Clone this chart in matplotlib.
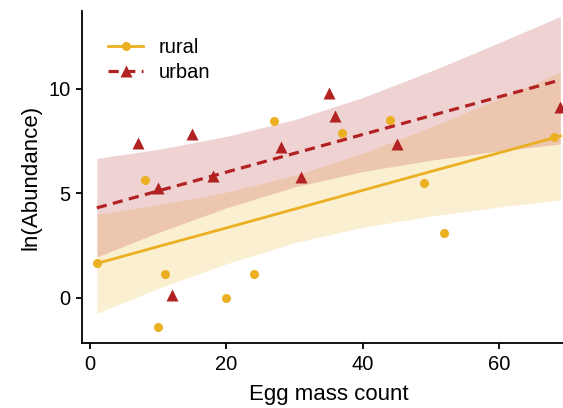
import numpy as np
import matplotlib
matplotlib.use("Agg")
import matplotlib.pyplot as plt
from matplotlib.lines import Line2D

plt.rcParams['font.family'] = ['Liberation Sans', 'DejaVu Sans']

# observed points
rural_x = [1, 8, 10, 11, 20, 24, 27, 37, 44, 49, 52, 68]
rural_y = [1.65, 5.63, -1.42, 1.12, 0.0, 1.13, 8.47, 7.9, 8.52, 5.49, 3.11, 7.67]
urban_x = [7, 10, 12, 15, 18, 28, 31, 35, 36, 45, 69]
urban_y = [7.39, 5.26, 0.13, 7.83, 5.84, 7.22, 5.76, 9.78, 8.68, 7.37, 9.14]

# fitted lines and confidence bands, read at these egg counts
fit_x = [1, 10, 20, 30, 40, 50, 60, 69]
rural_fit = [1.64, 2.45, 3.34, 4.24, 5.14, 6.04, 6.93, 7.74]
rural_lo = [-0.75, 0.45, 1.62, 2.63, 3.37, 3.91, 4.34, 4.68]
rural_hi = [3.99, 4.44, 5.05, 5.85, 6.91, 8.17, 9.52, 10.80]
urban_fit = [4.30, 5.11, 6.01, 6.91, 7.81, 8.71, 9.61, 10.42]
urban_lo = [1.95, 3.12, 4.30, 5.30, 6.04, 6.58, 7.02, 7.36]
urban_hi = [6.67, 7.10, 7.72, 8.52, 9.58, 10.84, 12.20, 13.46]

rural_col = '#EBAF22'
urban_col = '#B22222'

fig = plt.figure(figsize=(5.63, 4.08), dpi=100)
ax = fig.add_axes([82.3 / 563, 64.7 / 408, 492.4 / 563, 332.3 / 408])

ax.fill_between(fit_x, rural_lo, rural_hi, color=rural_col, alpha=0.2, lw=0, zorder=1)
ax.fill_between(fit_x, urban_lo, urban_hi, color=urban_col, alpha=0.2, lw=0, zorder=1)
ax.plot(fit_x, rural_fit, color=rural_col, lw=2.0, zorder=2)
ax.plot(fit_x, urban_fit, color=urban_col, lw=2.3, dashes=(3.2, 2), zorder=2)
ax.plot(rural_x, rural_y, 'o', color=rural_col, ms=6.5, mec='none', zorder=3)
ax.plot(urban_x, urban_y, '^', color=urban_col, ms=8, mec='none', zorder=3)

ax.set_xlim(-1.13, 71.1)
ax.set_ylim(-2.18, 13.72)
ax.set_xticks([0, 20, 40, 60])
ax.set_yticks([0, 5, 10])
for s in ['top', 'right']:
    ax.spines[s].set_visible(False)
for s in ['left', 'bottom']:
    ax.spines[s].set_linewidth(1.3)
ax.tick_params(direction='out', length=4.5, width=1.3, labelsize=14.5, pad=4)
ax.set_xlabel('Egg mass count', fontsize=16, labelpad=7)
ax.set_ylabel('ln(Abundance)', fontsize=16, labelpad=5)

handles = [
    Line2D([], [], color=rural_col, lw=2.0, marker='o', ms=6.5, mec='none'),
    Line2D([], [], color=urban_col, lw=2.3, dashes=(3.2, 2), marker='^', ms=8, mec='none'),
]
ax.legend(handles, ['rural', 'urban'], loc='upper left', frameon=False,
          fontsize=14.5, handlelength=1.75, handletextpad=0.75, labelspacing=0.3,
          numpoints=1, borderaxespad=0, borderpad=0,
          bbox_to_anchor=(108 / 563, 1 - 38 / 408), bbox_transform=fig.transFigure)

fig.savefig('out.png', dpi=100)
